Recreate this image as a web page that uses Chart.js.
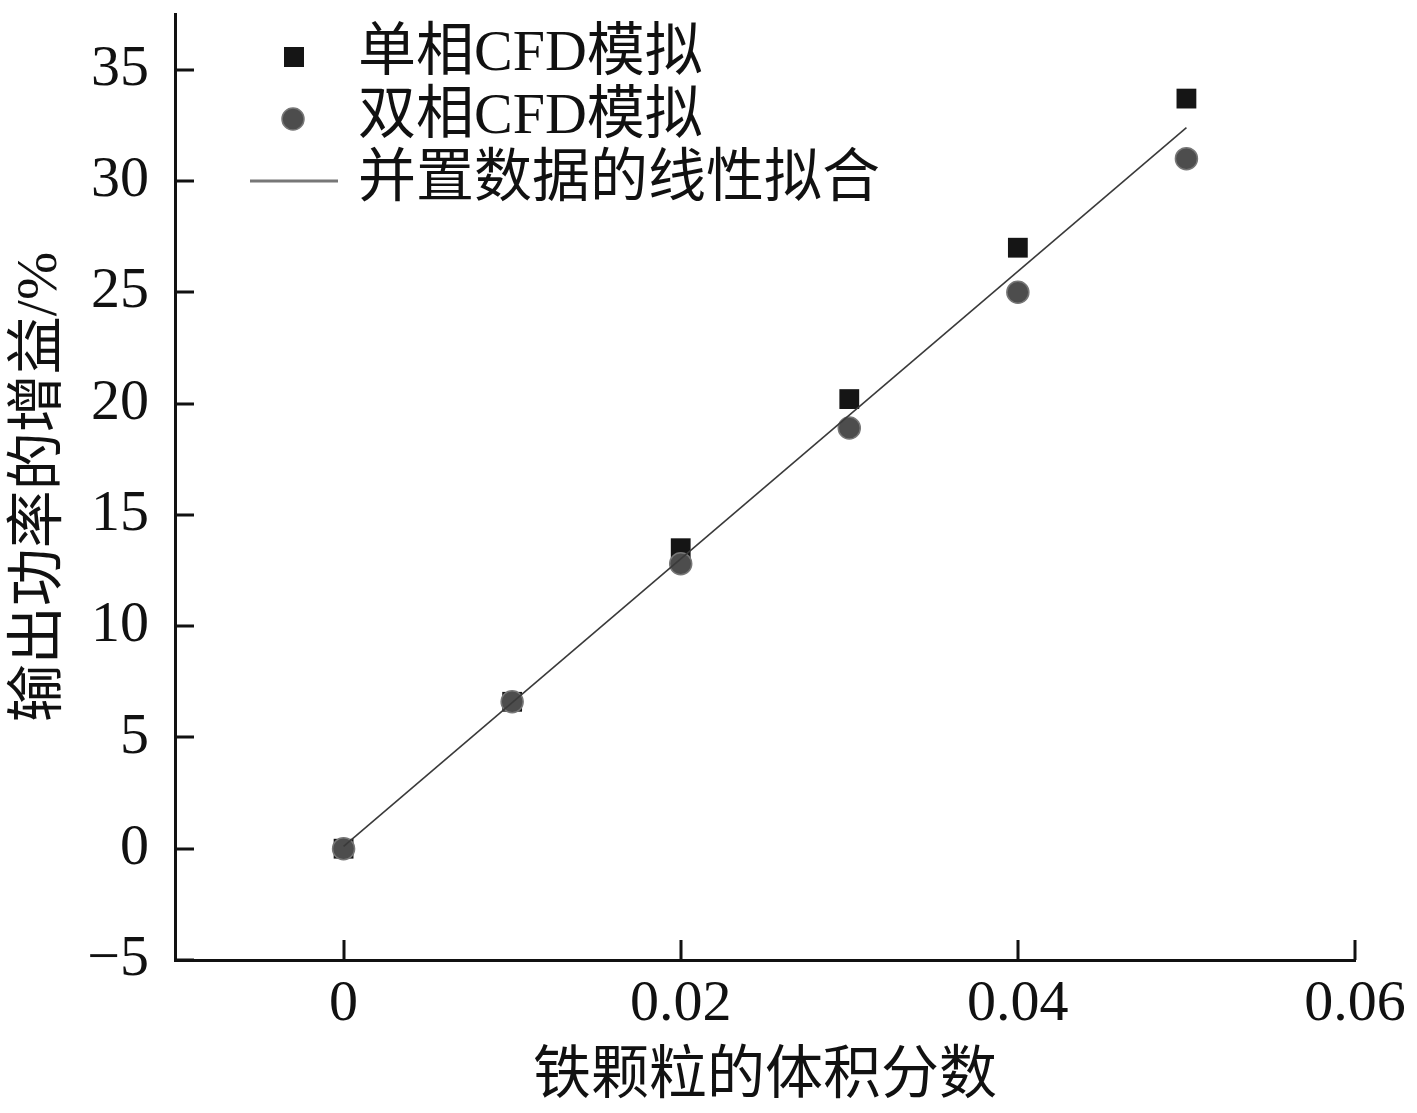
<!DOCTYPE html>
<html lang="zh">
<head>
  <meta charset="UTF-8" />
  <title>输出功率的增益</title>
  <style>
    body { margin: 0; background: #fff; }
    #wrap { width: 1417px; height: 1113px; }
  </style>
  <script src="https://cdn.jsdelivr.net/npm/chart.js"></script>
</head>
<body>
  <div id="wrap"><canvas id="gainChart" width="1417" height="1113"></canvas></div>

  <script>
    // values
    const volFraction = [0, 0.01, 0.02, 0.03, 0.04, 0.05];
    const singlePhase = [0, 6.6, 13.5, 20.2, 27.0, 33.7];
    const twoPhase = [0, 6.6, 12.8, 18.9, 25.0, 31.0];
    const fitX = [0, 0.05];
    const fitY = [0.1, 32.4];

    const xTicks = [0, 0.02, 0.04, 0.06];
    const yTicks = [-5, 0, 5, 10, 15, 20, 25, 30, 35];

    const seriesNames = ['单相CFD模拟', '双相CFD模拟', '并置数据的线性拟合'];

    const serif = "'Liberation Serif', 'Noto Sans CJK SC', serif";

    const toPoints = (xs, ys) => xs.map((x, i) => ({ x: x, y: ys[i] }));

    // inward tick marks on both axes
    const innerTicks = {
      id: 'innerTicks',
      afterDraw(chart) {
        const ctx = chart.ctx;
        const area = chart.chartArea;
        const xs = chart.scales.x, ys = chart.scales.y;
        ctx.save();
        ctx.strokeStyle = '#111';
        ctx.lineWidth = 3;
        ctx.beginPath();
        xTicks.forEach(v => {
          const px = Math.round(xs.getPixelForValue(v));
          ctx.moveTo(px, area.bottom);
          ctx.lineTo(px, area.bottom - 20);
        });
        yTicks.forEach(v => {
          const py = Math.round(ys.getPixelForValue(v));
          ctx.moveTo(area.left, py);
          ctx.lineTo(area.left + 19, py);
        });
        ctx.stroke();
        ctx.restore();
      }
    };

    // legend in the top-left corner of the plot
    const cornerLegend = {
      id: 'cornerLegend',
      afterDraw(chart) {
        const ctx = chart.ctx;
        ctx.save();
        // square
        ctx.fillStyle = '#151515';
        ctx.fillRect(284, 47, 20, 20);
        // circle
        ctx.fillStyle = '#4d4d4d';
        ctx.strokeStyle = '#777';
        ctx.lineWidth = 1.5;
        ctx.beginPath();
        ctx.arc(293, 119, 11, 0, Math.PI * 2);
        ctx.fill();
        ctx.stroke();
        // line
        ctx.strokeStyle = '#777';
        ctx.lineWidth = 3;
        ctx.beginPath();
        ctx.moveTo(250, 181);
        ctx.lineTo(338, 181);
        ctx.stroke();

        ctx.fillStyle = '#111';
        ctx.font = '58px ' + serif;
        ctx.textBaseline = 'middle';
        ctx.textAlign = 'left';
        ctx.fillText(seriesNames[0], 358, 55);
        ctx.fillText(seriesNames[1], 358, 118);
        ctx.fillText(seriesNames[2], 358, 181);
        ctx.restore();
      }
    };

    const chart = new Chart(document.getElementById('gainChart'), {
      type: 'scatter',
      data: {
        datasets: [
          {
            label: seriesNames[2],
            type: 'line',
            data: toPoints(fitX, fitY),
            borderColor: '#3a3a3a',
            borderWidth: 1.6,
            pointRadius: 0,
            fill: false,
            order: 0
          },
          {
            label: seriesNames[1],
            data: toPoints(volFraction, twoPhase),
            pointStyle: 'circle',
            pointRadius: 11,
            backgroundColor: '#4d4d4d',
            borderColor: '#777',
            borderWidth: 1.5,
            order: 1
          },
          {
            label: seriesNames[0],
            data: toPoints(volFraction, singlePhase),
            pointStyle: 'rect',
            pointRadius: 14,
            backgroundColor: '#151515',
            borderColor: '#151515',
            borderWidth: 0,
            order: 2
          }
        ]
      },
      options: {
        responsive: false,
        animation: false,
        layout: { padding: { left: 0, right: 62, top: 10, bottom: 0 } },
        plugins: {
          legend: { display: false },
          tooltip: { enabled: false }
        },
        scales: {
          x: {
            type: 'linear',
            min: -0.01,
            max: 0.06,
            afterBuildTicks: s => { s.ticks = xTicks.map(v => ({ value: v })); },
            afterFit: s => { s.height = 153; s.paddingLeft = 0; s.paddingRight = 0; },
            grid: { display: true, drawOnChartArea: false, drawTicks: false },
            border: { display: true, color: '#111', width: 3 },
            ticks: {
              padding: 10,
              color: '#111',
              font: { family: serif, size: 58 },
              maxRotation: 0,
              callback: v => String(v)
            },
            title: {
              display: true,
              text: '铁颗粒的体积分数',
              color: '#111',
              font: { family: serif, size: 58 },
              padding: { top: 0, bottom: 0 }
            }
          },
          y: {
            type: 'linear',
            min: -5,
            max: 37.5,
            afterBuildTicks: s => { s.ticks = yTicks.map(v => ({ value: v })); },
            afterFit: s => { s.width = 175; s.paddingTop = 0; s.paddingBottom = 0; },
            grid: { display: true, drawOnChartArea: false, drawTicks: false },
            border: { display: true, color: '#111', width: 3 },
            ticks: {
              padding: 26,
              color: '#111',
              font: { family: serif, size: 58 },
              callback: v => (v < 0 ? '\u2212' + Math.abs(v) : String(v))
            },
            title: {
              display: true,
              text: '输出功率的增益/%',
              color: '#111',
              font: { family: serif, size: 58 },
              padding: { top: 6, bottom: 0 }
            }
          }
        }
      },
      plugins: [innerTicks, cornerLegend]
    });
  </script>
</body>
</html>
